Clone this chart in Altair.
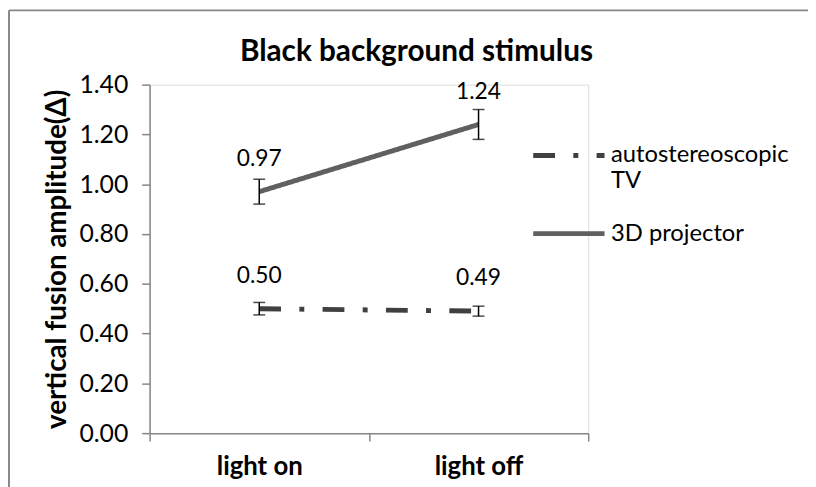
import altair as alt
import pandas as pd

categories = ["light on", "light off"]
series = ["autostereoscopic TV", "3D projector"]
tv_values = [0.50, 0.49]
tv_err = [0.025, 0.02]
proj_values = [0.97, 1.24]
proj_err = [0.05, 0.06]
y_ticks = [0.0, 0.2, 0.4, 0.6, 0.8, 1.0, 1.2, 1.4]

rows = []
for c, v, e in zip(categories, tv_values, tv_err):
    rows.append({"cond": c, "series": series[0], "val": v, "lo": v - e, "hi": v + e})
for c, v, e in zip(categories, proj_values, proj_err):
    rows.append({"cond": c, "series": series[1], "val": v, "lo": v - e, "hi": v + e})
df = pd.DataFrame(rows)

FONT = "Lato"
AXIS_GRAY = "#868686"

xenc = alt.X(
    "cond:N",
    sort=categories,
    scale=alt.Scale(type="band", paddingInner=0, paddingOuter=0),
    axis=alt.Axis(
        title=None, labelAngle=0, tickBand="extent", tickSize=8,
        labelFont=FONT, labelFontSize=26, labelFontWeight="bold", labelColor="black",
        labelPadding=13, domainColor=AXIS_GRAY, tickColor=AXIS_GRAY,
        domainWidth=1.5, tickWidth=1.5,
    ),
)
yscale = alt.Scale(domain=[0, 1.4], nice=False, zero=True)
yenc = alt.Y(
    "val:Q", scale=yscale,
    axis=alt.Axis(
        title="vertical fusion amplitude(Δ)", values=y_ticks, format=".2f",
        grid=False, tickSize=8, labelPadding=14,
        labelFont=FONT, labelFontSize=25, labelColor="black",
        titleFont=FONT, titleFontSize=28, titleFontWeight="bold", titleColor="black",
        titlePadding=8, domainColor=AXIS_GRAY, tickColor=AXIS_GRAY,
        domainWidth=1.5, tickWidth=1.5,
    ),
)

legend_kw = dict(
    title=None, orient="none", legendX=385, legendY=33, padding=0,
    symbolType="stroke", symbolSize=5184, symbolStrokeWidth=5,
    labelFont=FONT, labelFontSize=24, labelColor="black", labelLimit=400,
    labelOffset=4, rowPadding=2,
    labelExpr="datum.value == 'autostereoscopic TV' ? ['autostereoscopic', 'TV'] : datum.label",
)
color = alt.Color(
    "series:N",
    scale=alt.Scale(domain=series, range=["#404040", "#606060"]),
    legend=alt.Legend(**legend_kw),
)
dash = alt.StrokeDash(
    "series:N",
    scale=alt.Scale(domain=series, range=[[22, 18.5, 5, 18.5], [1, 0]]),
    legend=alt.Legend(**legend_kw),
)

base = alt.Chart(df)

lines = base.mark_line(strokeWidth=5).encode(
    x=xenc, y=yenc, color=color, strokeDash=dash, detail="series:N"
)
err_rule = base.mark_rule(color="black", strokeWidth=1.5).encode(
    x=alt.X("cond:N", sort=categories), y="lo:Q", y2="hi:Q"
)
cap_lo = base.mark_tick(color="black", size=12, thickness=1.5).encode(
    x=alt.X("cond:N", sort=categories), y="lo:Q"
)
cap_hi = base.mark_tick(color="black", size=12, thickness=1.5).encode(
    x=alt.X("cond:N", sort=categories), y="hi:Q"
)
labels = base.mark_text(font=FONT, fontSize=23, color="black", dy=-26, baseline="alphabetic").encode(
    x=alt.X("cond:N", sort=categories), y="val:Q", text=alt.Text("val:Q", format=".2f")
)

frame_df = pd.DataFrame({"a": [0]})
frame_top = alt.Chart(frame_df).mark_rule(color="#888888", strokeWidth=2).encode(
    x=alt.value(-142), x2=alt.value(670), y=alt.value(-75)
)
frame_left = alt.Chart(frame_df).mark_rule(color="#888888", strokeWidth=2).encode(
    x=alt.value(-142), y=alt.value(-75), y2=alt.value(410)
)

chart = alt.layer(lines, err_rule, cap_lo, cap_hi, labels, frame_top, frame_left).properties(
    width=443, height=352,
    title=alt.TitleParams(
        "Black background stimulus", font=FONT, fontSize=30, fontWeight="bold",
        color="black", anchor="middle", frame="group", dx=48, offset=-58,
    ),
    padding={"left": 143, "top": 75, "right": 222, "bottom": 52},
    autosize=alt.AutoSizeParams(type="none"),
).configure_view(stroke=None).configure(font=FONT)

chart.save("out.html", embed_options={"renderer": "svg", "actions": False})
